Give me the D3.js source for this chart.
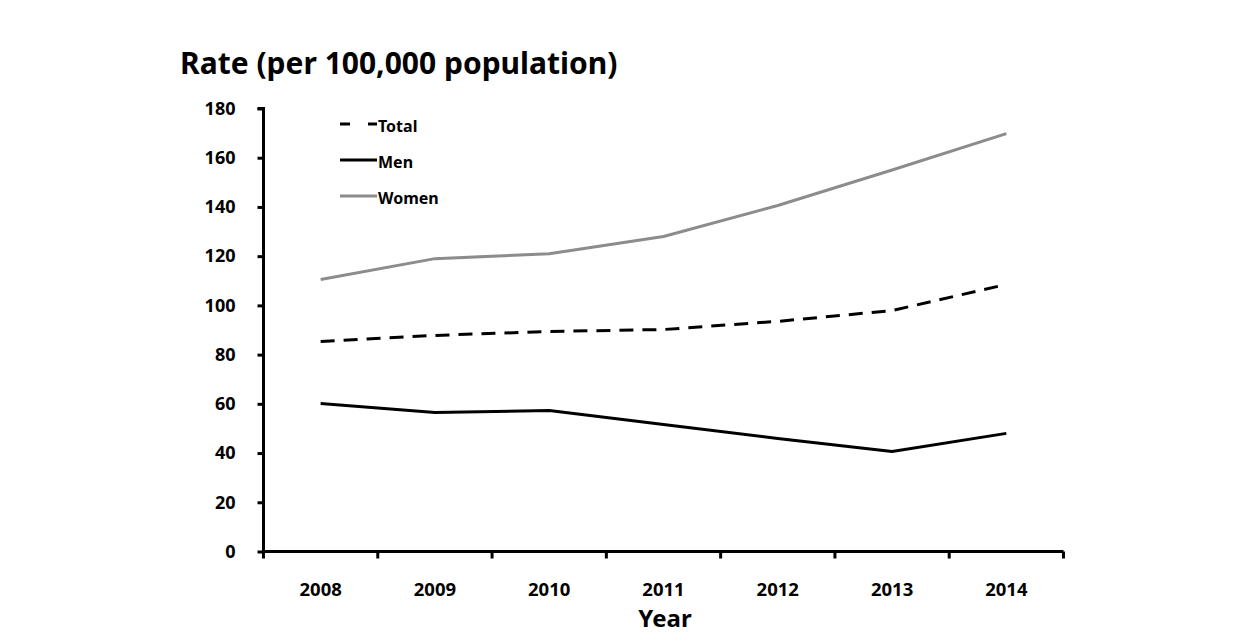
<!DOCTYPE html>
<html><head><meta charset="utf-8">
<script src="https://cdn.jsdelivr.net/npm/d3@7"></script>
<style>body{margin:0;background:#fff;} text{font-family:"Noto Sans","DejaVu Sans",sans-serif;font-weight:bold;}</style>
</head><body><svg id="c" width="1257" height="643"></svg>
<script>
const years = ["2008","2009","2010","2011","2012","2013","2014"];
const total = [85.3, 87.8, 89.4, 90.2, 93.5, 97.9, 108.5];
const men = [60.1, 56.5, 57.3, 51.6, 45.9, 40.6, 48.0];
const women = [110.5, 119.0, 121.0, 128.0, 140.6, 155.0, 169.8];
const yTicks = [0,20,40,60,80,100,120,140,160,180];
const seriesNames = ["Total","Men","Women"];

const svg = d3.select("#c");
const x = d3.scaleBand().domain(years).range([263.5, 1063.5]);
const y = d3.scaleLinear().domain([0,180]).range([551.5, 108.5]);

// y axis
const ya = svg.append("g").attr("transform","translate(263.5,0)")
  .call(d3.axisLeft(y).tickValues(yTicks).tickSize(6).tickPadding(22));
ya.select(".domain").attr("stroke","#000").attr("stroke-width",3).attr("d","M-6,108.5H0V551.5");
ya.selectAll(".tick line").attr("stroke","#000").attr("stroke-width",3);
ya.selectAll(".tick text").attr("font-size",18).attr("fill","#000");

// x axis
const xa = svg.append("g").attr("transform","translate(0,551.5)")
  .call(d3.axisBottom(x).tickSize(0).tickPadding(31));
xa.select(".domain").attr("stroke","#000").attr("stroke-width",3).attr("d","M263.5,0H1063.5");
xa.selectAll(".tick text").attr("font-size",18.5).attr("fill","#000");
const bounds = years.map(d=>x(d)).concat([x.range()[1]]);
xa.selectAll(".bt").data(bounds).enter().append("line").attr("class","bt")
  .attr("x1",d=>d).attr("x2",d=>d).attr("y1",0).attr("y2",7)
  .attr("stroke","#000").attr("stroke-width",3);

// title
svg.append("text").attr("x",180).attr("y",74).attr("font-size",30).attr("fill","#000")
  .text("Rate (per 100,000 population)");
svg.append("text").attr("x",665).attr("y",627).attr("text-anchor","middle").attr("font-size",24).attr("fill","#000")
  .text("Year");

const line = d3.line().x((d,i)=>x(years[i])+x.bandwidth()/2).y(d=>y(d));
const styles = {
  Total:{stroke:"#000",dash:"14,9"},
  Men:{stroke:"#000",dash:null},
  Women:{stroke:"#8c8c8c",dash:null}
};
const data = {Total: total, Men: men, Women: women};
seriesNames.forEach(n=>{
  svg.append("path").datum(data[n]).attr("d",line).attr("fill","none")
    .attr("stroke",styles[n].stroke).attr("stroke-width",3)
    .attr("stroke-linejoin","round")
    .attr("stroke-dasharray",styles[n].dash);
});

// legend
const legY = [124, 160, 196];
seriesNames.forEach((n,i)=>{
  svg.append("line").attr("x1",340).attr("x2",377).attr("y1",legY[i]).attr("y2",legY[i])
    .attr("stroke",styles[n].stroke).attr("stroke-width",3)
    .attr("stroke-dasharray",n==="Total"?"10,18":null);
  svg.append("text").attr("x",378).attr("y",legY[i]+8).attr("font-size",16).attr("fill","#000").text(n);
});
</script></body></html>
